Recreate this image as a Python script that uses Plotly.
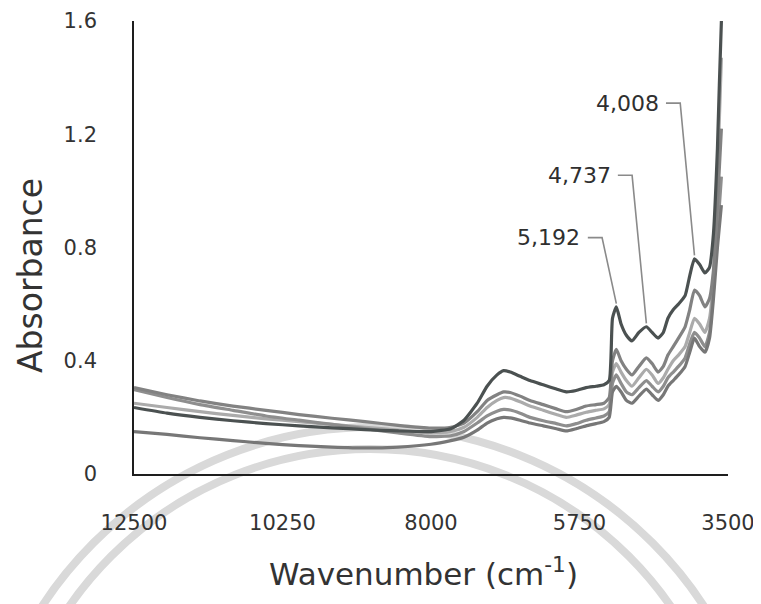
import plotly.graph_objects as go

# ---- data ----
wavenumber = [12500, 12000, 11500, 11000, 10500, 10000, 9500, 9000, 8500, 8000,
              7700, 7500, 7300, 7150, 7000, 6900, 6800, 6650, 6500, 6300,
              6100, 5950, 5800, 5650, 5500, 5380, 5300, 5250, 5192, 5120,
              5040, 4955, 4850, 4737, 4650, 4560, 4480, 4410, 4330, 4250,
              4150, 4080, 4008, 3930, 3850, 3780, 3720, 3660, 3600, 3550]

sample_1 = [0.235, 0.215, 0.200, 0.188, 0.178, 0.170, 0.163, 0.157, 0.152, 0.150,
            0.160, 0.190, 0.250, 0.310, 0.350, 0.365, 0.360, 0.345, 0.330, 0.315,
            0.300, 0.290, 0.295, 0.305, 0.310, 0.315, 0.330, 0.550, 0.590, 0.530,
            0.490, 0.470, 0.500, 0.520, 0.500, 0.480, 0.500, 0.550, 0.580, 0.600,
            0.630, 0.700, 0.760, 0.740, 0.710, 0.730, 0.850, 1.150, 1.600, 1.750]
sample_2 = [0.305, 0.280, 0.258, 0.240, 0.225, 0.210, 0.197, 0.185, 0.172, 0.162,
            0.165, 0.180, 0.220, 0.260, 0.280, 0.290, 0.288, 0.275, 0.260, 0.245,
            0.230, 0.220, 0.228, 0.240, 0.245, 0.250, 0.270, 0.400, 0.440, 0.400,
            0.370, 0.350, 0.380, 0.410, 0.390, 0.360, 0.380, 0.420, 0.450, 0.480,
            0.520, 0.580, 0.650, 0.630, 0.590, 0.620, 0.720, 0.950, 1.220, None]
sample_3 = [0.250, 0.235, 0.220, 0.207, 0.195, 0.185, 0.175, 0.165, 0.155, 0.145,
            0.150, 0.165, 0.200, 0.235, 0.260, 0.270, 0.268, 0.255, 0.240, 0.225,
            0.210, 0.200, 0.208, 0.218, 0.225, 0.230, 0.245, 0.360, 0.390, 0.360,
            0.330, 0.310, 0.340, 0.370, 0.350, 0.320, 0.340, 0.370, 0.400, 0.420,
            0.450, 0.500, 0.550, 0.530, 0.500, 0.550, 0.700, 1.050, 1.470, None]
sample_4 = [0.298, 0.270, 0.245, 0.225, 0.205, 0.190, 0.175, 0.160, 0.145, 0.132,
            0.135, 0.150, 0.180, 0.205, 0.222, 0.228, 0.226, 0.215, 0.200, 0.188,
            0.178, 0.170, 0.178, 0.190, 0.198, 0.205, 0.220, 0.320, 0.350, 0.320,
            0.290, 0.280, 0.305, 0.330, 0.310, 0.290, 0.310, 0.340, 0.360, 0.380,
            0.410, 0.460, 0.500, 0.480, 0.450, 0.500, 0.650, 0.850, 1.050, None]
sample_5 = [0.150, 0.140, 0.128, 0.118, 0.108, 0.100, 0.095, 0.092, 0.095, 0.105,
            0.118, 0.130, 0.155, 0.180, 0.195, 0.200, 0.198, 0.190, 0.180, 0.170,
            0.160, 0.152, 0.160, 0.170, 0.178, 0.185, 0.200, 0.290, 0.310, 0.290,
            0.260, 0.250, 0.275, 0.300, 0.280, 0.260, 0.280, 0.310, 0.330, 0.350,
            0.380, 0.430, 0.480, 0.450, 0.430, 0.480, 0.620, 0.800, 0.950, None]

x_tick_values = [12500, 10250, 8000, 5750, 3500]
x_tick_labels = ["12500", "10250", "8000", "5750", "3500"]
y_tick_values = [0, 0.4, 0.8, 1.2, 1.6]
y_tick_labels = ["0", "0.4", "0.8", "1.2", "1.6"]

peak_wavenumbers = [5192, 4737, 4008]
peak_labels = ["5,192", "4,737", "4,008"]
label_heights = [0.835, 1.055, 1.31]

# ---- figure ----
series = [
    (sample_3, "#ababab"),
    (sample_4, "#8e8e8e"),
    (sample_5, "#777777"),
    (sample_2, "#828282"),
    (sample_1, "#4b5151"),
]

fig = go.Figure()
for vals, col in series:
    fig.add_trace(go.Scatter(
        x=wavenumber, y=vals, mode="lines",
        line=dict(color=col, width=3.2, shape="spline", smoothing=0.5),
        showlegend=False, hoverinfo="skip"))

FONT = "DejaVu Sans"
# page shows the figure offset by the 8px body margin; compensate
OFF = 8
W, H = 761 - OFF, 604 - OFF
PLOT_L, PLOT_R, PLOT_T, PLOT_B = 134, 728, 21, 474  # target screen pixels
L, R, T, B = PLOT_L - OFF, W - (PLOT_R - OFF), PLOT_T - OFF, H - (PLOT_B - OFF)
PW, PH = PLOT_R - PLOT_L, PLOT_B - PLOT_T


def px_x(px):
    return (px - PLOT_L) / PW


def px_y(py):
    return (PLOT_B - py) / PH


# faint watermark arcs (background seal)
shapes = []
for cx, cy, r in [(373, 822, 395), (370, 815, 366)]:
    shapes.append(dict(type="circle", xref="paper", yref="paper", layer="below",
                       x0=px_x(cx - r), x1=px_x(cx + r), y0=px_y(cy + r), y1=px_y(cy - r),
                       line=dict(color="#d9d9d9", width=8)))

# leader lines from labels to peaks
annotations = []
span = 12500 - 3500
for wn_peak, lab, ly in zip(peak_wavenumbers, peak_labels, label_heights):
    idx = wavenumber.index(wn_peak)
    peak_val = sample_1[idx] + 0.012
    x_text_right = wn_peak + 0.057 * span
    x_h0 = wn_peak + 0.048 * span
    x_h1 = wn_peak + 0.024 * span
    shapes.append(dict(type="path", xref="x", yref="y", layer="above",
                       path=f"M {x_h0},{ly} L {x_h1},{ly} L {wn_peak},{peak_val}",
                       line=dict(color="#8a8a8a", width=1.6)))
    annotations.append(dict(x=x_text_right, y=ly, xref="x", yref="y", text=lab,
                            showarrow=False, xanchor="right", yanchor="middle",
                            font=dict(family=FONT, size=22, color="#2f2f2f")))

annotations.append(dict(x=px_x(423), y=px_y(572), xref="paper", yref="paper",
                        text="Wavenumber (cm<sup>-1</sup>)", showarrow=False,
                        xanchor="center", yanchor="middle",
                        font=dict(family=FONT, size=31, color="#333333")))
annotations.append(dict(x=px_x(30), y=px_y(276), xref="paper", yref="paper",
                        text="Absorbance", showarrow=False, textangle=-90,
                        xanchor="center", yanchor="middle",
                        font=dict(family=FONT, size=33, color="#333333")))

fig.update_layout(
    width=W, height=H,
    margin=dict(l=L, r=R, t=T, b=B, autoexpand=False),
    paper_bgcolor="white", plot_bgcolor="rgba(0,0,0,0)",
    shapes=shapes, annotations=annotations,
    xaxis=dict(range=[12500, 3500], tickvals=x_tick_values, ticktext=x_tick_labels,
               showgrid=False, zeroline=False, showline=True, linecolor="#1e1e1e",
               linewidth=1.6, ticks="", ticklabelstandoff=29, automargin=False,
               tickfont=dict(family=FONT, size=21, color="#333333")),
    yaxis=dict(range=[0, 1.6], tickvals=y_tick_values, ticktext=y_tick_labels,
               showgrid=False, zeroline=False, showline=True, linecolor="#1e1e1e",
               linewidth=1.6, ticks="", ticklabelstandoff=31, automargin=False,
               tickfont=dict(family=FONT, size=21, color="#333333")),
)

fig.write_html("out.html")
